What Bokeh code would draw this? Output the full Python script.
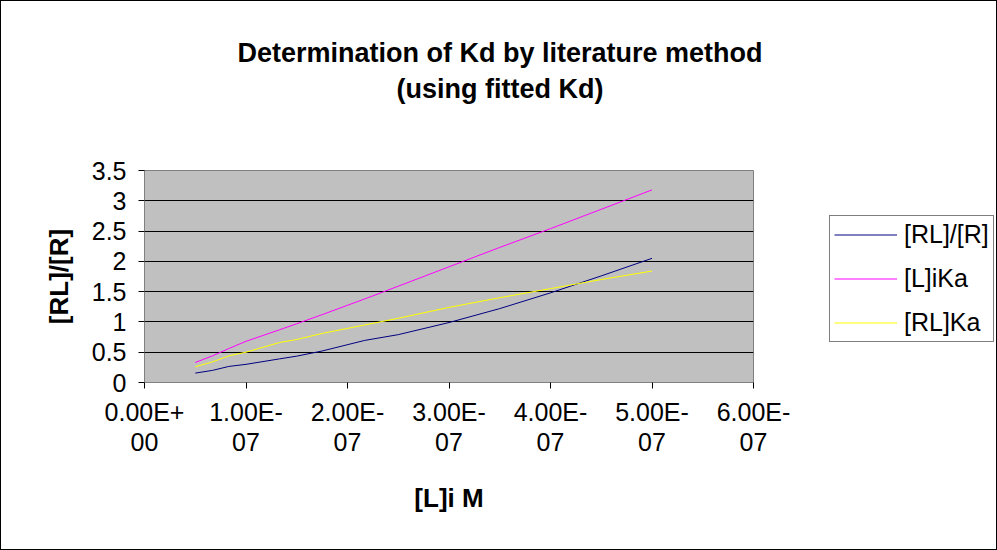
from bokeh.plotting import figure
from bokeh.models import Range1d, Legend, LegendItem, Title, FixedTicker
from bokeh.layouts import row
from bokeh.embed import file_html
from bokeh.resources import INLINE

# Data (x in M)
L_i = [0.5e-7, 0.67e-7, 0.83e-7, 1.0e-7, 1.33e-7, 1.5e-7, 1.75e-7, 2.17e-7,
       2.5e-7, 3.0e-7, 3.5e-7, 4.0e-7, 4.5e-7, 5.0e-7]
RL_over_R = [0.155, 0.20, 0.265, 0.30, 0.39, 0.435, 0.52, 0.695,
             0.79, 0.99, 1.22, 1.48, 1.76, 2.05]
L_i_Ka = [0.33, 0.44, 0.56, 0.68, 0.87, 0.97, 1.12, 1.38,
          1.59, 1.91, 2.23, 2.54, 2.86, 3.18]
RL_Ka = [0.26, 0.34, 0.44, 0.50, 0.66, 0.71, 0.81, 0.95,
         1.06, 1.24, 1.40, 1.55, 1.70, 1.84]

series_names = ["[RL]/[R]", "[L]iKa", "[RL]Ka"]
series_colors = ["#000080", "#FF00FF", "#FFFF00"]

x_ticks = [0, 1e-7, 2e-7, 3e-7, 4e-7, 5e-7, 6e-7]
x_tick_labels = ["0.00E+\n00", "1.00E-\n07", "2.00E-\n07", "3.00E-\n07",
                 "4.00E-\n07", "5.00E-\n07", "6.00E-\n07"]
y_ticks = [0, 0.5, 1, 1.5, 2, 2.5, 3, 3.5]
y_tick_labels = ["0", "0.5", "1", "1.5", "2", "2.5", "3", "3.5"]
title_lines = ["Determination of Kd by literature method", "(using fitted Kd)"]

FONT = "Liberation Sans"

p = figure(width=828, height=548, output_backend="svg", toolbar_location=None,
           x_range=Range1d(0, 6e-7), y_range=Range1d(0, 3.5),
           min_border_left=143, min_border_right=76, min_border_top=169,
           min_border_bottom=167)

p.background_fill_color = "#C0C0C0"
p.border_fill_color = "white"
p.outline_line_color = "#808080"
p.outline_line_width = 1

p.xgrid.visible = False
p.ygrid.ticker = FixedTicker(ticks=y_ticks)
p.ygrid.grid_line_color = "black"
p.ygrid.grid_line_width = 1

for ax in (p.xaxis[0], p.yaxis[0]):
    ax.axis_line_color = "#808080"
    ax.major_tick_line_color = "black"
    ax.major_tick_out = 6
    ax.major_tick_in = 0
    ax.minor_tick_line_color = None
    ax.major_label_text_font = FONT
    ax.major_label_text_font_size = "25px"
    ax.major_label_text_color = "black"
    ax.axis_label_text_font = FONT
    ax.axis_label_text_font_style = "bold"
    ax.axis_label_text_font_size = "26px"
    ax.axis_label_text_color = "black"

p.xaxis.ticker = FixedTicker(ticks=x_ticks)
p.xaxis.major_label_overrides = {t: l for t, l in zip(x_ticks, x_tick_labels)}
p.xaxis.major_label_text_line_height = 1.1
p.xaxis.axis_label = "[L]i M"
p.xaxis.major_label_standoff = 9
p.xaxis.axis_label_standoff = 24

p.yaxis.ticker = FixedTicker(ticks=y_ticks)
p.yaxis.major_label_overrides = {t: l for t, l in zip(y_ticks, y_tick_labels)}
p.yaxis.axis_label = "[RL]/[R]"
p.yaxis.major_label_standoff = 12
p.yaxis.axis_label_standoff = 15

series = [RL_over_R, L_i_Ka, RL_Ka]
for ys, c in zip(series, series_colors):
    p.line(L_i, ys, line_color=c, line_width=1)

p.title = None
p.add_layout(Title(text=" ", text_font_size="1px", standoff=62), "above")
p.add_layout(Title(text=title_lines[1], align="left", text_font=FONT,
                   text_font_style="bold", text_font_size="27px",
                   text_color="black", standoff=4, offset=252), "above")
p.add_layout(Title(text=title_lines[0], align="left", text_font=FONT,
                   text_font_style="bold", text_font_size="27px",
                   text_color="black", standoff=4, offset=93), "above")

# legend panel (its frame is aligned with the main plot's frame by the row);
# the same series are plotted here outside the visible range so that the
# legend has renderers of its own to draw its line samples from.
q = figure(width=167, height=548, output_backend="svg", toolbar_location=None,
           x_range=Range1d(0, 1), y_range=Range1d(100, 101),
           x_axis_type=None, y_axis_type=None, min_border=0)
q.grid.visible = False
q.outline_line_color = None
q.background_fill_color = "white"
q.border_fill_color = "white"
items = []
for name, ys, c in zip(series_names, series, series_colors):
    r = q.line(L_i, ys, line_color=c, line_width=1)
    items.append(LegendItem(label=name, renderers=[r]))

legend = Legend(items=items, location=(0, 40.5))
legend.label_text_font = FONT
legend.label_text_font_size = "25px"
legend.label_text_color = "black"
legend.glyph_width = 63
legend.glyph_height = 21
legend.label_height = 21
legend.label_standoff = 7
legend.spacing = 15
legend.padding = 4
legend.margin = 0
legend.border_line_color = "black"
legend.border_line_width = 1
legend.background_fill_color = "white"
q.add_layout(legend, "center")

layout = row(p, q, spacing=0)
layout.styles = {"border": "1px solid black"}

open("out.html", "w").write(file_html(layout, INLINE))
